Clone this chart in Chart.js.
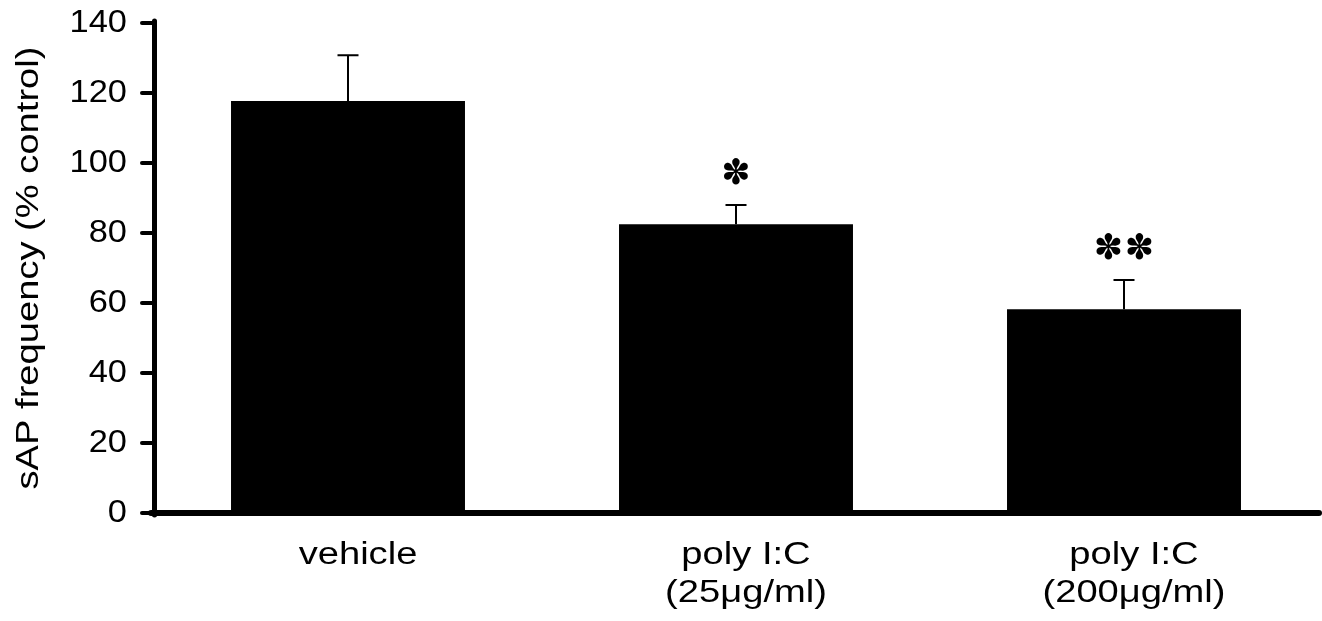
<!DOCTYPE html>
<html>
<head>
<meta charset="utf-8">
<script src="https://cdn.jsdelivr.net/npm/chart.js@4"></script>
<style>
  html, body { margin: 0; padding: 0; background: #ffffff; }
  #wrap { width: 1322px; height: 621px; position: relative; }
</style>
</head>
<body>
<div id="wrap"><canvas id="c"></canvas></div>
<script>
// ---- data ----
const categories = [['vehicle'], ['poly I:C', '(25\u03BCg/ml)'], ['poly I:C', '(200\u03BCg/ml)']];
const means = [117.7, 82.5, 58.2];
const errors = [13.1, 5.5, 8.4];
const significance = ['', '*', '**'];
const yMin = 0, yMax = 140, yStep = 20;
const yTitle = 'sAP frequency (% control)';

const FAMILY = "'Liberation Sans', Arial, sans-serif";
// glyphs in the reference are horizontally wide
const TEXT_STRETCH = 1.23;
const NUM_STRETCH = 1.11;

const ctxStyle = {
  id: 'ctxStyle',
  beforeDraw(chart) {
    const ctx = chart.ctx;
    ctx.lineCap = 'round';
    if (!ctx.__stretched) {
      const orig = CanvasRenderingContext2D.prototype.fillText;
      ctx.fillText = function (t, x, y, mw) {
        const sx = /^[0-9.]+$/.test(String(t)) ? NUM_STRETCH : TEXT_STRETCH;
        this.save();
        this.translate(x, y);
        this.scale(sx, 1);
        if (mw === undefined) orig.call(this, t, 0, 0);
        else orig.call(this, t, 0, 0, mw / sx);
        this.restore();
      };
      ctx.__stretched = true;
    }
  }
};

const errorBars = {
  id: 'errorBars',
  afterDatasetsDraw(chart) {
    const ctx = chart.ctx;
    const meta = chart.getDatasetMeta(0);
    const y = chart.scales.y;
    ctx.save();
    ctx.lineCap = 'butt';
    ctx.strokeStyle = '#000';
    ctx.fillStyle = '#000';
    ctx.lineWidth = 2;
    meta.data.forEach((bar, i) => {
      const x = bar.x;
      const yBase = y.getPixelForValue(means[i]);
      const yTop = y.getPixelForValue(means[i] + errors[i]);
      ctx.beginPath();
      ctx.moveTo(x, yBase);
      ctx.lineTo(x, yTop);
      ctx.moveTo(x - 10.5, yTop);
      ctx.lineTo(x + 10.5, yTop);
      ctx.stroke();
      const n = significance[i].length;
      if (n) {
        ctx.font = "35px 'DejaVu Sans'";
        ctx.textAlign = 'center';
        ctx.textBaseline = 'middle';
        for (let k = 0; k < n; k++) {
          CanvasRenderingContext2D.prototype.fillText.call(ctx, '\u273D', x + (k - (n - 1) / 2) * 31, yTop - 30);
        }
      }
    });
    ctx.restore();
  }
};

new Chart(document.getElementById('c'), {
  type: 'bar',
  data: {
    labels: categories,
    datasets: [{
      data: means,
      backgroundColor: '#000000',
      borderWidth: 0,
      barPercentage: 0.603,
      categoryPercentage: 1.0
    }]
  },
  options: {
    responsive: true,
    maintainAspectRatio: false,
    animation: false,
    layout: { padding: { top: 23, right: 4, bottom: 0, left: 0 } },
    plugins: { legend: { display: false }, tooltip: { enabled: false } },
    scales: {
      x: {
        offset: true,
        grid: { display: false, drawTicks: false },
        border: { display: true, color: '#000', width: 6 },
        ticks: {
          color: '#000',
          font: { family: FAMILY, size: 31, lineHeight: 1.21 },
          padding: 24,
          labelOffset: 10,
          maxRotation: 0,
          autoSkip: false
        },
        afterFit(s) { s.height = 108; s.paddingLeft = 0; s.paddingRight = 0; }
      },
      y: {
        min: yMin,
        max: yMax,
        ticks: {
          stepSize: yStep,
          color: '#000',
          font: { family: FAMILY, size: 31 },
          padding: 15
        },
        grid: {
          display: true,
          drawOnChartArea: false,
          drawTicks: true,
          tickLength: 12,
          lineWidth: 4,
          color: '#000'
        },
        border: { display: true, color: '#000', width: 5 },
        title: {
          display: true,
          text: yTitle,
          color: '#000',
          font: { family: FAMILY, size: 31, lineHeight: 1.2 },
          padding: { top: 11, bottom: 0 }
        },
        afterFit(s) { s.width = 154; s.paddingTop = 0; s.paddingBottom = 0; }
      }
    }
  },
  plugins: [ctxStyle, errorBars]
});
</script>
</body>
</html>
